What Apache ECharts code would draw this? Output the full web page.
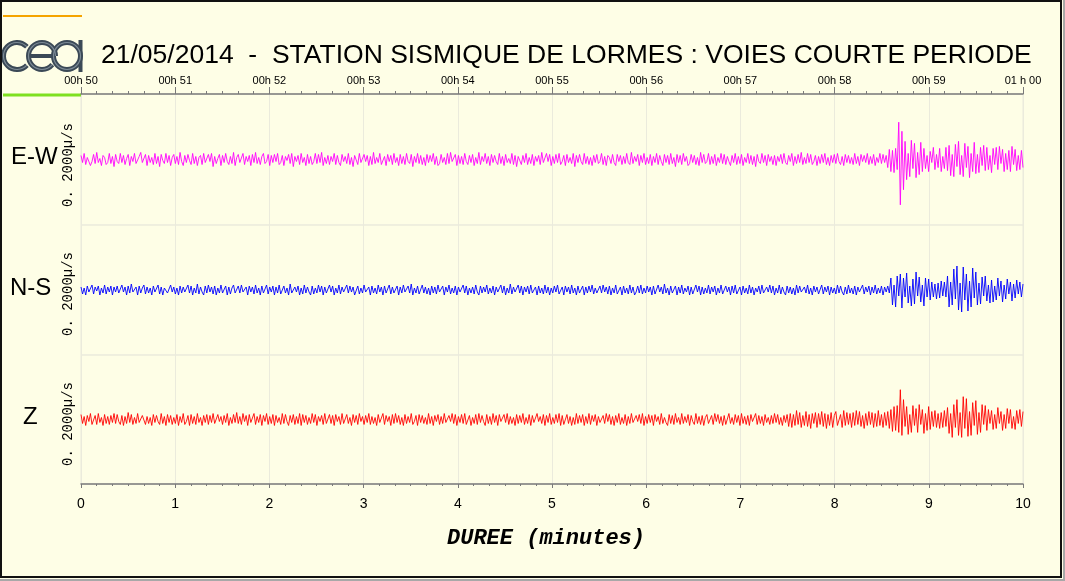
<!DOCTYPE html>
<html>
<head>
<meta charset="utf-8">
<script src="https://cdn.jsdelivr.net/npm/echarts@6/dist/echarts.min.js"></script>
<style>
html,body{margin:0;padding:0;background:#a8a8a8;}
#chart{width:1063px;height:579px;}
</style>
</head>
<body>
<div id="chart"></div>
<script>
// ---- Data (amplitudes, in display units) ----
var titleText = '21/05/2014  -  STATION SISMIQUE DE LORMES : VOIES COURTE PERIODE';
var channels = ['E-W', 'N-S', 'Z'];
var scaleLabel = '0. 2000\u00b5/s';
var topLabels = ['00h 50','00h 51','00h 52','00h 53','00h 54','00h 55','00h 56','00h 57','00h 58','00h 59','01 h 00'];
var bottomLabels = ['0','1','2','3','4','5','6','7','8','9','10'];
var durationMin = 10;

var ewValues = [
4,-3,6,-5,2,3,-6,-2,5,-4,7,-3,1,-6,4,2,-5,-3,6,-4,
3,-7,5,-2,-4,6,-3,4,-5,1,5,-6,3,-2,6,-4,-5,3,7,-3,
-2,5,-6,4,-3,2,-5,6,-4,3,-7,5,-1,-4,6,-3,4,-6,2,5,
-4,3,-5,7,-2,-6,4,-3,5,-1,-5,6,-4,3,-6,2,4,-5,6,-3,
-4,5,-2,6,-7,3,-4,1,5,-6,4,-3,6,-2,-5,3,-4,7,-6,2,
5,-3,-4,6,-5,3,-2,4,-6,5,-3,7,-4,2,-5,3,6,-4,-2,5,
-6,4,-3,5,-2,6,-5,-3,4,-6,3,-1,5,-4,6,-7,3,-2,4,-5,
6,-3,2,-6,5,-4,3,-5,-2,6,-4,5,-3,7,-6,2,-4,4,-5,3,
-2,6,-5,4,-3,-6,5,-2,3,-4,6,-5,2,-7,4,3,-5,6,-3,-4,
5,-2,4,-6,3,-5,7,-4,2,-3,6,-5,-4,3,-6,5,-2,4,-5,6,
-3,2,-6,5,-4,3,-5,6,-2,-4,5,-7,3,-3,6,-4,4,-5,2,-6,
5,-3,4,-2,6,-5,3,-6,-4,5,-3,2,-5,6,-4,7,-2,-3,5,-6,
4,-4,3,-5,6,-2,-5,4,-3,5,-6,2,-4,7,-5,3,-2,6,-4,3,
-6,5,-3,4,-2,-5,6,-4,3,-6,5,-3,1,-4,6,-5,4,-7,3,2,
-5,4,-3,6,-5,2,-4,5,-6,3,-2,4,-5,7,-3,-4,6,-2,5,-6,
3,-4,5,-3,6,-5,-2,4,-6,5,-3,2,-4,6,-7,4,-3,5,-2,-5,
6,-4,3,-5,2,-6,4,-3,5,-4,-2,6,-5,3,-6,4,2,-4,5,-3,
-6,5,-2,4,-5,3,-4,6,-3,-5,7,-4,3,-2,5,-6,4,-3,6,-5,
2,-4,5,-6,3,-3,6,-5,4,-2,-6,5,-3,4,-5,6,-4,2,-7,5,
-3,4,-5,6,-2,3,-6,-4,5,-3,4,-5,2,-6,7,-3,5,-4,-2,6,
-5,3,-4,5,-6,2,-3,6,-4,5,-5,3,-2,-6,4,-3,6,-5,3,-4,
5,-6,2,-3,6,-4,4,-5,3,-7,5,-2,-4,6,-3,4,-6,5,-2,3,
-5,4,-6,3,-2,5,-4,6,-3,-5,4,-2,6,-6,3,-4,5,-3,7,-5,
2,-4,6,-3,5,-5,-2,4,-6,3,-4,5,-3,6,-5,2,-6,4,-3,5,
-4,6,-2,-5,3,-6,5,-3,4,-4,2,-5,6,-4,3,-6,5,-2,4,-3,
6,-5,3,-4,5,-6,2,-3,6,-4,5,-3,4,
-8,10,-12,9,-13,11,-10,
37,-45,28,-30,
18,-20,6,-17,19,-9,16,-18,7,-15,17,-12,
11,-9,4,-12,8,-3,12,-10,5,-8,11,-12,3,-9,12,-11,
14,-16,5,-17,15,-7,18,-15,4,-17,16,-8,13,-18,6,-12,17,-14,5,-13,12,-6,14,-11,
12,-10,4,-13,11,-5,12,-10,13,-4,10,-12,6,-10,9,-12,13,-5,10,-11,4,-10,9,-8
];

var nsValues = [
3,-4,2,-5,4,-2,-3,5,-4,3,-1,4,-5,2,-3,5,-4,3,-2,4,
-5,3,-2,4,-3,-4,5,-2,3,-5,4,-3,6,-2,-4,3,-5,4,-3,2,
5,-4,3,-3,2,-5,4,-2,-3,5,-4,3,-5,2,4,-3,-4,5,-2,3,
-4,2,-5,4,-3,3,-2,-4,5,-3,4,-5,2,-3,6,-4,3,-2,-5,4,
-3,5,-2,3,-4,4,-5,2,-3,5,-3,-2,4,-5,3,-4,2,5,-3,-4,
4,-3,5,-2,-4,3,-5,4,-2,3,-4,5,-3,2,-5,4,-3,-2,5,-4,
3,-2,4,-5,3,-3,5,-4,-2,4,-3,2,-5,6,-3,-4,3,-2,4,-5,
2,-4,5,-3,3,-2,-5,4,-4,2,-3,5,-2,4,-5,3,-3,-4,5,-2,
4,-5,2,-3,5,-4,3,-2,-4,5,-3,4,-2,3,-5,-3,4,-4,2,-3,
5,-2,-4,3,-5,4,-3,2,-4,5,-2,3,-5,4,-3,-2,5,-4,3,-3,
-2,4,-5,3,-3,5,-2,-4,4,-3,6,-5,2,-3,4,-4,-2,5,-3,3,
-4,2,-5,4,-3,3,-4,5,-2,-3,4,-5,3,-2,5,-4,2,-3,4,-5,
3,-2,-4,5,-3,4,-5,2,-3,3,-4,5,-2,-5,4,-3,3,-2,5,-4,
2,-3,4,-5,3,-2,-4,5,-3,4,-5,2,-3,6,-4,3,-2,-4,5,-3,
4,-5,3,-2,4,-4,5,-3,-2,3,-5,4,-3,2,-4,5,-3,3,-5,2,
-3,4,-2,5,-4,-3,3,-5,4,-2,3,-4,5,-3,2,-5,4,-3,-2,4,
-5,3,-3,4,-2,5,-4,2,-3,-5,4,-3,5,-2,3,-4,4,-5,2,-3,
5,-4,-2,3,-5,4,-3,2,-4,5,-3,3,-5,-2,4,-3,5,-4,2,-3,
4,-2,3,-5,4,-4,-3,5,-2,3,-4,6,-3,2,-5,4,-3,-2,4,-5,
3,-3,5,-4,2,-2,4,-5,3,-4,-3,5,-2,4,-5,3,-4,2,-3,5,
-4,3,-2,4,-5,2,-3,5,-4,-3,4,-2,3,-5,4,-3,5,-4,-2,3,
-5,4,-3,2,-4,5,-3,3,-5,2,-2,4,-4,5,-3,-4,3,-2,5,-3,
4,-5,2,-3,5,-4,3,-2,-5,4,-3,3,-4,2,-5,5,-3,4,-2,-4,
3,-3,5,-4,2,-5,4,-2,3,-4,-3,5,-4,3,-2,4,-5,3,-3,2,
-4,5,-3,4,-2,-5,3,-4,5,-3,2,-4,4,-5,3,-2,-3,5,-4,3,
-2,4,-5,3,-3,5,-4,2,-3,4,-5,3,-2,4,-3,
12,-15,5,-17,14,-6,16,-18,12,-7,17,-13,4,-16,11,-14,18,-6,13,-12,5,-16,12,-7,11,-10,
8,-7,6,-9,7,-8,9,-6,8,-7,
14,-17,8,-15,21,-9,24,-20,7,-22,23,-10,16,-21,9,-17,22,-8,18,-15,7,-14,
13,-6,14,-11,5,-13,10,-12,4,-10,12,-6,9,-12,5,-9,11,-4,8,-11,6,-8,10,-4,8,-7,6
];

var zValues = [
5,-4,3,-6,4,-2,6,-5,-3,4,-5,6,-3,2,-6,5,-4,3,-5,4,
-3,6,-4,5,-2,-5,4,-6,3,-4,7,-3,5,-5,2,-4,6,-3,-5,4,
6,-5,3,-4,2,-6,5,-3,4,-2,-5,6,-4,3,-6,5,-3,4,-5,2,
-4,5,-6,3,-3,6,-5,-2,4,-6,5,-4,3,-5,6,-3,2,-6,4,-3,
5,-5,4,-3,6,-4,-6,5,-2,3,-5,4,-3,6,-6,2,-4,5,-3,7,
-4,3,-5,6,-2,4,-6,5,-3,-4,6,-5,3,-3,5,-6,4,-2,6,-5,
3,-4,5,-6,4,-3,2,-5,6,-4,5,-2,-6,4,-3,5,-5,3,-4,6,
-6,5,-3,4,-5,2,-4,6,-3,5,-6,3,-2,4,-5,6,-4,-3,5,-4,
4,-6,5,-2,3,-5,6,-4,-3,5,-4,2,-6,5,-3,4,-5,6,-2,3,
-5,4,-3,6,-5,3,-4,2,-6,5,-3,-4,6,-5,4,-2,3,-6,5,-4,
6,-3,4,-5,2,-6,5,-4,3,-3,6,-5,-2,4,-6,5,-3,4,-4,2,
-5,6,-4,3,-6,4,-2,5,-5,3,-4,6,-3,-5,4,-2,6,-4,5,-6,
3,-3,5,-4,6,-5,-3,4,-6,2,-4,5,-5,6,-3,4,-2,-6,5,-4,
3,-5,6,-3,4,-6,5,-2,-4,5,-3,6,-5,3,-4,2,-6,5,-4,4,
-3,6,-5,2,-4,5,-6,4,-3,-5,6,-2,3,-4,5,-6,4,-3,6,-5,
2,-4,5,-3,6,-6,4,-5,-3,5,-4,3,-6,2,-5,6,-4,4,-3,5,
-6,3,-4,6,-5,4,-2,5,-6,3,-3,-5,4,-4,6,-2,5,-5,3,-6,
4,-3,6,-5,2,-4,5,-6,3,-4,6,-3,-5,4,-2,5,-4,6,-6,3,
-4,5,-3,4,-6,5,-2,3,-5,6,-4,2,-3,-6,5,-4,4,-5,6,-3,
2,-5,6,-4,3,-3,5,-6,4,-2,-5,6,-4,3,-5,4,-6,2,5,-4,
-3,4,-5,6,-2,5,-4,3,-6,4,-5,-3,6,-4,2,-5,5,-3,4,-6,
6,-4,3,-5,4,-6,5,-2,-3,6,-5,4,-4,3,-6,5,-3,2,-5,4,
-4,6,-3,5,-5,2,-6,4,-3,5,
-7,6,-8,5,-6,9,-5,7,-8,4,-6,8,-7,5,-9,6,-4,7,-8,6,
-5,8,-7,6,-9,5,-6,7,-8,4,8,-6,-7,5,-8,9,-6,7,-5,6,
-8,7,-6,9,-5,8,-7,4,-9,6,-6,8,-5,7,-8,6,-7,9,-6,5,
-8,7,-6,8,-9,
10,-12,13,-11,14,-13,
30,
-16,20,-7,13,-15,5,-13,14,-6,11,-13,15,-5,10,-14,6,-11,13,-10,
8,-7,9,-8,6,-9,7,-8,9,-7,
12,-14,6,-18,15,-8,20,-16,7,-18,23,-9,21,-17,8,-16,17,-6,19,-15,7,-13,15,-5,14,
-11,10,-4,9,-10,5,-9,12,-4,8,-11,5,-9,11,-4,10,-9,3,-10,9,-4,10,-7,8
];

var channelValues = [ewValues, nsValues, zValues];
var channelColors = ['#ff00ff', '#0000ff', '#ff0000'];

// ---- Chart ----
var chart = echarts.init(document.getElementById('chart'), null, {renderer: 'canvas'});
var BG = '#fefee6';
var GRIDC = '#ebebdc';
var AXISC = '#7a7a7a';

function toSeriesData(arr) {
  var n = arr.length;
  return arr.map(function (v, i) { return [i * durationMin / (n - 1), v]; });
}

var grids = [
  {left: 81, width: 942, top: 94, height: 131},
  {left: 81, width: 942, top: 225, height: 130},
  {left: 81, width: 942, top: 355, height: 129}
].map(function (g) {
  g.show = true; g.borderColor = GRIDC; g.borderWidth = 1; g.backgroundColor = 'transparent';
  return g;
});

function baseX(gi) {
  return {
    type: 'value', gridIndex: gi, min: 0, max: durationMin, interval: 1,
    axisLine: {show: false, onZero: false},
    axisTick: {show: false},
    axisLabel: {show: false},
    minorTick: {show: false},
    splitLine: {show: true, lineStyle: {color: GRIDC, width: 1}}
  };
}

var xAxes = [baseX(0), baseX(1), baseX(2)];
xAxes[0].position = 'top';
xAxes[0].axisLine = {show: true, onZero: false, lineStyle: {color: AXISC, width: 1.5}};
xAxes[0].axisTick = {show: true, length: 7, lineStyle: {color: AXISC}};
xAxes[0].minorTick = {show: true, splitNumber: 6, length: 3, lineStyle: {color: AXISC}};
xAxes[0].axisLabel = {
  show: true, margin: 8, color: '#000', fontSize: 11, fontFamily: 'Liberation Sans',
  formatter: function (v) { return topLabels[Math.round(v)]; }
};
xAxes[2].position = 'bottom';
xAxes[2].axisLine = {show: true, onZero: false, lineStyle: {color: AXISC, width: 1.5}};
xAxes[2].axisTick = {show: true, length: 4, lineStyle: {color: AXISC}};
xAxes[2].minorTick = {show: true, splitNumber: 6, length: 2, lineStyle: {color: AXISC}};
xAxes[2].axisLabel = {
  show: true, margin: 13, color: '#000', fontSize: 14, fontFamily: 'Liberation Sans',
  formatter: function (v) { return bottomLabels[Math.round(v)]; }
};
xAxes[2].name = 'DUREE (minutes)';
xAxes[2].nameLocation = 'middle';
xAxes[2].nameGap = 43;
xAxes[2].nameTextStyle = {color: '#000', fontSize: 22, fontFamily: 'Liberation Mono', fontWeight: 'bold', fontStyle: 'italic', padding: [0, 12, 0, 0]};

var yAxes = [0, 1, 2].map(function (gi) {
  return {type: 'value', gridIndex: gi, min: -65, max: 65, show: false};
});

var series = channelValues.map(function (arr, i) {
  return {
    type: 'line', xAxisIndex: i, yAxisIndex: i, data: toSeriesData(arr),
    showSymbol: false, symbol: 'none', animation: false, sampling: null,
    lineStyle: {color: channelColors[i], width: 0.9}, z: 3
  };
});

var logoDark = '#3b4956';
var logoMid = '#7d8b96';
var graphics = [
  {type: 'rect', shape: {x: 1, y: 1, width: 1060, height: 576}, style: {fill: 'none', stroke: '#111', lineWidth: 2}, z: 100},
  {type: 'line', shape: {x1: 3, y1: 16, x2: 82, y2: 16}, style: {stroke: '#f5a400', lineWidth: 2}},
  {type: 'line', shape: {x1: 3, y1: 95, x2: 82, y2: 95}, style: {stroke: '#7fe020', lineWidth: 3}},
  {type: 'arc', shape: {cx: 17, cy: 56, r: 13.5, startAngle: 0.75, endAngle: 2 * Math.PI - 0.75, clockwise: true}, style: {stroke: logoDark, lineWidth: 5, fill: 'none'}},
  {type: 'arc', shape: {cx: 42, cy: 56, r: 13.5, startAngle: 0, endAngle: 0.7, clockwise: false}, style: {stroke: logoDark, lineWidth: 5, fill: 'none'}},
  {type: 'line', shape: {x1: 28.5, y1: 56, x2: 55.5, y2: 56}, style: {stroke: logoDark, lineWidth: 4}},
  {type: 'circle', shape: {cx: 67, cy: 56, r: 13.5}, style: {stroke: logoDark, lineWidth: 5, fill: 'none'}},
  {type: 'line', shape: {x1: 80.5, y1: 40, x2: 80.5, y2: 72}, style: {stroke: logoDark, lineWidth: 4}},
  {type: 'arc', shape: {cx: 17, cy: 56, r: 13.5, startAngle: 0.75, endAngle: 2 * Math.PI - 0.75, clockwise: true}, style: {stroke: logoMid, lineWidth: 1.2, fill: 'none'}},
  {type: 'arc', shape: {cx: 42, cy: 56, r: 13.5, startAngle: 0, endAngle: 0.7, clockwise: false}, style: {stroke: logoMid, lineWidth: 1.2, fill: 'none'}},
  {type: 'circle', shape: {cx: 67, cy: 56, r: 13.5}, style: {stroke: logoMid, lineWidth: 1.2, fill: 'none'}},
  {type: 'text', x: 101, y: 56, style: {text: titleText, font: '26.5px "Liberation Sans"', fill: '#000', align: 'left', verticalAlign: 'middle'}}
];

var labelPos = [[11, 157], [10, 288], [23, 417]];
var scalePos = [[68, 165], [68, 294], [68, 424]];
channels.forEach(function (c, i) {
  graphics.push({type: 'text', x: labelPos[i][0], y: labelPos[i][1], style: {text: c, font: '24px "Liberation Sans"', fill: '#000', align: 'left', verticalAlign: 'middle'}});
  graphics.push({type: 'text', x: scalePos[i][0], y: scalePos[i][1], rotation: Math.PI / 2, style: {text: scaleLabel, font: '14px "Liberation Mono"', fill: '#000', align: 'center', verticalAlign: 'middle'}});
});

chart.setOption({
  backgroundColor: BG,
  animation: false,
  grid: grids,
  xAxis: xAxes,
  yAxis: yAxes,
  series: series,
  graphic: graphics
});
</script>
</body>
</html>
